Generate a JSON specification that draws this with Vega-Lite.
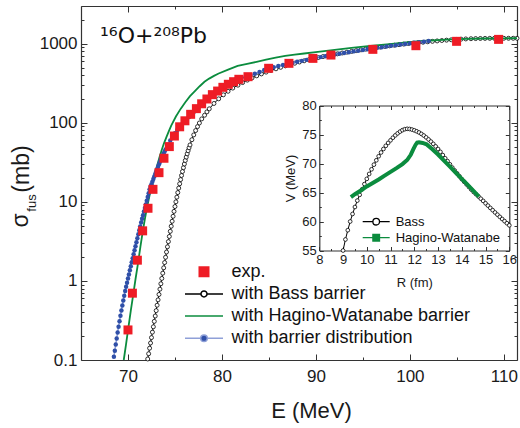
{
  "$schema": "https://vega.github.io/schema/vega-lite/v6.json",
  "width": 436,
  "height": 354,
  "autosize": "none",
  "padding": {"left": 81, "top": 6, "right": 3, "bottom": 68},
  "background": "white",
  "config": {
    "view": {"stroke": null},
    "font": "Liberation Sans",
    "axis": {"grid": false, "domainColor": "#333333", "domainWidth": 1.2, "tickColor": "#333333", "tickWidth": 1, "labelColor": "#1a1a1a", "titleColor": "#1a1a1a", "titleFontWeight": "normal", "labelFont": "Liberation Sans", "titleFont": "Liberation Sans"},
    "legend": {"labelFont": "Liberation Sans", "labelLimit": 0}
  },
  "title": {"text": "¹⁶O+²⁰⁸Pb", "anchor": "start", "frame": "group", "orient": "top", "offset": 0, "dx": 19, "dy": 68, "baseline": "alphabetic", "fontSize": 22, "fontWeight": "normal", "font": "DejaVu Sans", "color": "#111111"},
  "datasets": {
    "exp": [
      {"s": "exp.", "E": 70.0, "v": 0.24}, {"s": "exp.", "E": 70.47, "v": 0.70}, {"s": "exp.", "E": 71.0, "v": 1.83}, {"s": "exp.", "E": 71.56, "v": 4.3},
      {"s": "exp.", "E": 72.13, "v": 8.3}, {"s": "exp.", "E": 72.66, "v": 14.4}, {"s": "exp.", "E": 73.3, "v": 23.4}, {"s": "exp.", "E": 73.83, "v": 35.6},
      {"s": "exp.", "E": 74.4, "v": 50}, {"s": "exp.", "E": 74.94, "v": 68}, {"s": "exp.", "E": 75.5, "v": 89}, {"s": "exp.", "E": 76.06, "v": 106},
      {"s": "exp.", "E": 76.67, "v": 128}, {"s": "exp.", "E": 77.28, "v": 151}, {"s": "exp.", "E": 77.84, "v": 174}, {"s": "exp.", "E": 78.4, "v": 200},
      {"s": "exp.", "E": 78.98, "v": 227}, {"s": "exp.", "E": 79.54, "v": 252}, {"s": "exp.", "E": 80.1, "v": 281}, {"s": "exp.", "E": 80.68, "v": 307},
      {"s": "exp.", "E": 81.24, "v": 331}, {"s": "exp.", "E": 81.8, "v": 355}, {"s": "exp.", "E": 82.77, "v": 383}, {"s": "exp.", "E": 84.97, "v": 489},
      {"s": "exp.", "E": 87.13, "v": 565}, {"s": "exp.", "E": 89.68, "v": 653}, {"s": "exp.", "E": 91.6, "v": 719}, {"s": "exp.", "E": 96.06, "v": 849},
      {"s": "exp.", "E": 100.64, "v": 944}, {"s": "exp.", "E": 104.97, "v": 1072}, {"s": "exp.", "E": 109.44, "v": 1135}
    ],
    "bass": [
      {"E": 72.1, "v": 0.103}, {"E": 72.2, "v": 0.120}, {"E": 72.3, "v": 0.141}, {"E": 72.4, "v": 0.164}, {"E": 72.5, "v": 0.192},
      {"E": 72.6, "v": 0.225}, {"E": 72.7, "v": 0.263}, {"E": 72.8, "v": 0.308}, {"E": 72.9, "v": 0.360}, {"E": 73.0, "v": 0.421},
      {"E": 73.1, "v": 0.493}, {"E": 73.2, "v": 0.576}, {"E": 73.3, "v": 0.674}, {"E": 73.4, "v": 0.787}, {"E": 73.5, "v": 0.920},
      {"E": 73.6, "v": 1.075}, {"E": 73.7, "v": 1.254}, {"E": 73.8, "v": 1.464}, {"E": 73.9, "v": 1.708}, {"E": 74.0, "v": 1.991},
      {"E": 74.1, "v": 2.321}, {"E": 74.2, "v": 2.702}, {"E": 74.3, "v": 3.144}, {"E": 74.4, "v": 3.651}, {"E": 74.5, "v": 4.24},
      {"E": 74.6, "v": 4.916}, {"E": 74.7, "v": 5.687}, {"E": 74.8, "v": 6.572}, {"E": 74.9, "v": 7.58}, {"E": 75.0, "v": 8.725},
      {"E": 75.1, "v": 10.01}, {"E": 75.2, "v": 11.47}, {"E": 75.3, "v": 13.1}, {"E": 75.4, "v": 14.92}, {"E": 75.5, "v": 16.92},
      {"E": 75.6, "v": 19.13}, {"E": 75.7, "v": 21.56}, {"E": 75.8, "v": 24.2}, {"E": 75.9, "v": 27.04}, {"E": 76.0, "v": 30.1},
      {"E": 76.1, "v": 33.37}, {"E": 76.2, "v": 36.83}, {"E": 76.3, "v": 40.48}, {"E": 76.4, "v": 44.3}, {"E": 76.5, "v": 48.3},
      {"E": 76.6, "v": 52.46}, {"E": 76.8, "v": 61.1}, {"E": 77.0, "v": 70.3}, {"E": 77.2, "v": 79.8}, {"E": 77.4, "v": 89.5},
      {"E": 77.6, "v": 99.4}, {"E": 77.85, "v": 112}, {"E": 78.15, "v": 124.6}, {"E": 78.4, "v": 137.4}, {"E": 78.65, "v": 150.2},
      {"E": 79.15, "v": 175.6}, {"E": 79.65, "v": 200.9}, {"E": 80.15, "v": 225.8}, {"E": 80.65, "v": 250.4}, {"E": 81.15, "v": 274.8},
      {"E": 81.7, "v": 299}, {"E": 82.2, "v": 322.8}, {"E": 82.7, "v": 346.3}, {"E": 83.2, "v": 369.5}, {"E": 83.7, "v": 392.6},
      {"E": 84.2, "v": 415.1}, {"E": 84.7, "v": 437.5}, {"E": 85.2, "v": 459.7}, {"E": 85.75, "v": 481.8}, {"E": 86.25, "v": 503.3},
      {"E": 86.75, "v": 524.7}, {"E": 87.25, "v": 545.9}, {"E": 87.75, "v": 566.8}, {"E": 88.25, "v": 587.4}, {"E": 88.75, "v": 608},
      {"E": 89.25, "v": 628.2}, {"E": 89.75, "v": 648}, {"E": 90.25, "v": 667.9}, {"E": 90.75, "v": 687.6}, {"E": 91.25, "v": 707},
      {"E": 91.8, "v": 726}, {"E": 92.3, "v": 745}, {"E": 92.8, "v": 763.6}, {"E": 93.3, "v": 782}, {"E": 93.8, "v": 800.5},
      {"E": 94.3, "v": 818.6}, {"E": 94.8, "v": 836.5}, {"E": 95.3, "v": 854.4}, {"E": 95.8, "v": 872}, {"E": 96.3, "v": 889},
      {"E": 96.85, "v": 906.4}, {"E": 97.35, "v": 923.5}, {"E": 97.85, "v": 940.4}, {"E": 98.35, "v": 957.4}, {"E": 98.85, "v": 973.6},
      {"E": 99.35, "v": 990.2}, {"E": 99.85, "v": 1006}, {"E": 100.35, "v": 1018}, {"E": 100.85, "v": 1030}, {"E": 101.4, "v": 1044},
      {"E": 101.9, "v": 1058}, {"E": 102.4, "v": 1072}, {"E": 102.9, "v": 1085}, {"E": 103.4, "v": 1098}, {"E": 103.9, "v": 1110},
      {"E": 104.4, "v": 1121}, {"E": 104.95, "v": 1132}, {"E": 105.45, "v": 1142}, {"E": 105.95, "v": 1150}, {"E": 106.5, "v": 1157},
      {"E": 107.0, "v": 1162}, {"E": 107.5, "v": 1165}, {"E": 108.0, "v": 1168}, {"E": 108.5, "v": 1170}, {"E": 109.0, "v": 1171},
      {"E": 109.5, "v": 1171}, {"E": 110.0, "v": 1172}, {"E": 110.5, "v": 1172}, {"E": 111.0, "v": 1172}, {"E": 111.4, "v": 1172}
    ],
    "hw": [
      {"E": 69.55, "v": 0.1}, {"E": 69.8, "v": 0.16}, {"E": 70.05, "v": 0.26}, {"E": 70.3, "v": 0.42}, {"E": 70.55, "v": 0.66},
      {"E": 70.8, "v": 1.05}, {"E": 71.07, "v": 1.68}, {"E": 71.32, "v": 2.7}, {"E": 71.57, "v": 4.2}, {"E": 71.82, "v": 6.3},
      {"E": 72.07, "v": 9.0}, {"E": 72.32, "v": 12.5}, {"E": 72.58, "v": 16.3}, {"E": 72.83, "v": 21.5}, {"E": 73.08, "v": 28},
      {"E": 73.33, "v": 36}, {"E": 73.58, "v": 45}, {"E": 73.83, "v": 55}, {"E": 74.09, "v": 66}, {"E": 74.34, "v": 78},
      {"E": 74.6, "v": 92}, {"E": 75.1, "v": 120}, {"E": 75.6, "v": 150}, {"E": 76.1, "v": 182}, {"E": 76.6, "v": 217},
      {"E": 77.12, "v": 252}, {"E": 77.63, "v": 290}, {"E": 78.14, "v": 330}, {"E": 78.64, "v": 362}, {"E": 79.15, "v": 392},
      {"E": 79.65, "v": 420}, {"E": 80.66, "v": 470}, {"E": 81.67, "v": 525}, {"E": 82.68, "v": 557}, {"E": 83.69, "v": 590},
      {"E": 84.7, "v": 628}, {"E": 85.72, "v": 665}, {"E": 86.73, "v": 700}, {"E": 87.74, "v": 728}, {"E": 88.75, "v": 752},
      {"E": 89.75, "v": 775}, {"E": 91.77, "v": 830}, {"E": 93.78, "v": 885}, {"E": 95.8, "v": 940}, {"E": 97.83, "v": 990},
      {"E": 99.86, "v": 1045}, {"E": 101.88, "v": 1090}, {"E": 103.9, "v": 1125}, {"E": 105.92, "v": 1150}, {"E": 107.95, "v": 1165},
      {"E": 109.97, "v": 1172}, {"E": 111.4, "v": 1174}
    ],
    "bd": [
      {"E": 68.5, "v": 0.110}, {"E": 68.6, "v": 0.131}, {"E": 68.7, "v": 0.157}, {"E": 68.8, "v": 0.187}, {"E": 68.9, "v": 0.223},
      {"E": 69.0, "v": 0.264}, {"E": 69.1, "v": 0.310}, {"E": 69.2, "v": 0.363}, {"E": 69.3, "v": 0.423}, {"E": 69.4, "v": 0.490},
      {"E": 69.5, "v": 0.565}, {"E": 69.6, "v": 0.650}, {"E": 69.7, "v": 0.745}, {"E": 69.8, "v": 0.843}, {"E": 69.9, "v": 0.951},
      {"E": 70.0, "v": 1.072}, {"E": 70.1, "v": 1.208}, {"E": 70.2, "v": 1.361}, {"E": 70.3, "v": 1.531}, {"E": 70.4, "v": 1.722},
      {"E": 70.5, "v": 1.936}, {"E": 70.6, "v": 2.178}, {"E": 70.7, "v": 2.449}, {"E": 70.8, "v": 2.754}, {"E": 70.9, "v": 3.090},
      {"E": 71.0, "v": 3.467}, {"E": 71.1, "v": 3.890}, {"E": 71.2, "v": 4.365}, {"E": 71.3, "v": 4.898}, {"E": 71.4, "v": 5.495},
      {"E": 71.5, "v": 6.109}, {"E": 71.6, "v": 6.792}, {"E": 71.7, "v": 7.534}, {"E": 71.8, "v": 8.337}, {"E": 71.9, "v": 9.29},
      {"E": 72.0, "v": 10.35}, {"E": 72.1, "v": 11.56}, {"E": 72.2, "v": 12.88}, {"E": 72.3, "v": 14.39}, {"E": 72.4, "v": 15.52},
      {"E": 72.5, "v": 16.75}, {"E": 72.6, "v": 18.03}, {"E": 72.7, "v": 19.45}, {"E": 72.8, "v": 20.94}, {"E": 72.9, "v": 22.54},
      {"E": 73.0, "v": 24.21}, {"E": 73.1, "v": 25.94}, {"E": 73.2, "v": 27.86}, {"E": 73.3, "v": 29.85}, {"E": 73.4, "v": 31.99},
      {"E": 73.5, "v": 34.28}, {"E": 73.6, "v": 36.56}, {"E": 73.7, "v": 38.73}, {"E": 73.8, "v": 41.02}, {"E": 73.9, "v": 43.45},
      {"E": 74.0, "v": 46.03}, {"E": 74.25, "v": 52.72}, {"E": 74.5, "v": 59.57}, {"E": 74.75, "v": 66.53}, {"E": 75.0, "v": 73.62},
      {"E": 75.25, "v": 80.91}, {"E": 75.5, "v": 88.1}, {"E": 75.75, "v": 95.5}, {"E": 76.0, "v": 103.0}, {"E": 76.25, "v": 110.7},
      {"E": 76.5, "v": 118.3}, {"E": 76.75, "v": 127.1}, {"E": 77.0, "v": 136.5}, {"E": 77.25, "v": 146.2}, {"E": 77.5, "v": 156.7},
      {"E": 77.75, "v": 167.9}, {"E": 78.0, "v": 179.9}, {"E": 78.5, "v": 204}, {"E": 79.0, "v": 229}, {"E": 79.5, "v": 254},
      {"E": 80.0, "v": 280}, {"E": 80.5, "v": 305}, {"E": 81.0, "v": 330}, {"E": 81.5, "v": 355}, {"E": 82.0, "v": 362},
      {"E": 82.5, "v": 378}, {"E": 83.0, "v": 395}, {"E": 83.5, "v": 418}, {"E": 84.0, "v": 440}, {"E": 84.5, "v": 464},
      {"E": 85.0, "v": 488}, {"E": 85.5, "v": 505}, {"E": 86.0, "v": 522}, {"E": 86.5, "v": 538}, {"E": 87.0, "v": 555},
      {"E": 87.5, "v": 572}, {"E": 88.0, "v": 590}, {"E": 88.5, "v": 607}, {"E": 89.0, "v": 625}, {"E": 89.5, "v": 642},
      {"E": 90.0, "v": 660}, {"E": 90.5, "v": 677}, {"E": 91.0, "v": 695}, {"E": 91.5, "v": 712}, {"E": 92.0, "v": 730},
      {"E": 92.5, "v": 747}, {"E": 93.0, "v": 765}, {"E": 93.5, "v": 782}, {"E": 94.0, "v": 800}, {"E": 94.5, "v": 817},
      {"E": 95.0, "v": 835}, {"E": 95.5, "v": 851}, {"E": 96.0, "v": 868}, {"E": 96.5, "v": 886}, {"E": 97.0, "v": 905},
      {"E": 97.5, "v": 922}, {"E": 98.0, "v": 940}, {"E": 98.5, "v": 957}, {"E": 99.0, "v": 975}, {"E": 99.5, "v": 992},
      {"E": 100.0, "v": 1010}, {"E": 100.5, "v": 1027}, {"E": 101.0, "v": 1045}, {"E": 101.5, "v": 1062}, {"E": 102.0, "v": 1080}
    ],
    "vbass": [
      {"R": 9.0, "V": 55.0}, {"R": 9.1, "V": 56.9}, {"R": 9.2, "V": 58.5}, {"R": 9.3, "V": 60.0}, {"R": 9.4, "V": 61.3},
      {"R": 9.5, "V": 62.5}, {"R": 9.6, "V": 63.6}, {"R": 9.7, "V": 64.6}, {"R": 9.8, "V": 65.55}, {"R": 9.9, "V": 66.45},
      {"R": 10.0, "V": 67.35}, {"R": 10.1, "V": 68.2}, {"R": 10.2, "V": 69.0}, {"R": 10.3, "V": 69.8}, {"R": 10.4, "V": 70.55},
      {"R": 10.5, "V": 71.25}, {"R": 10.6, "V": 71.9}, {"R": 10.7, "V": 72.5}, {"R": 10.8, "V": 73.05}, {"R": 10.9, "V": 73.55},
      {"R": 11.0, "V": 74.0}, {"R": 11.1, "V": 74.45}, {"R": 11.2, "V": 74.85}, {"R": 11.3, "V": 75.2}, {"R": 11.4, "V": 75.5},
      {"R": 11.5, "V": 75.75}, {"R": 11.6, "V": 75.92}, {"R": 11.7, "V": 75.98}, {"R": 11.8, "V": 75.95}, {"R": 11.9, "V": 75.85},
      {"R": 12.0, "V": 75.72}, {"R": 12.1, "V": 75.55}, {"R": 12.2, "V": 75.35}, {"R": 12.3, "V": 75.1}, {"R": 12.4, "V": 74.82},
      {"R": 12.5, "V": 74.5}, {"R": 12.6, "V": 74.15}, {"R": 12.7, "V": 73.78}, {"R": 12.8, "V": 73.38}, {"R": 12.9, "V": 72.95},
      {"R": 13.0, "V": 72.5}, {"R": 13.1, "V": 72.0}, {"R": 13.2, "V": 71.45}, {"R": 13.3, "V": 70.9}, {"R": 13.4, "V": 70.4},
      {"R": 13.5, "V": 69.85}, {"R": 13.6, "V": 69.3}, {"R": 13.7, "V": 68.8}, {"R": 13.8, "V": 68.3}, {"R": 13.9, "V": 67.8},
      {"R": 14.0, "V": 67.3}, {"R": 14.1, "V": 66.85}, {"R": 14.2, "V": 66.4}, {"R": 14.3, "V": 65.95}, {"R": 14.4, "V": 65.5},
      {"R": 14.5, "V": 65.08}, {"R": 14.6, "V": 64.7}, {"R": 14.7, "V": 64.32}, {"R": 14.8, "V": 63.93}, {"R": 14.9, "V": 63.55},
      {"R": 15.0, "V": 63.14}, {"R": 15.1, "V": 62.74}, {"R": 15.2, "V": 62.34}, {"R": 15.3, "V": 61.95}, {"R": 15.4, "V": 61.56},
      {"R": 15.5, "V": 61.18}, {"R": 15.6, "V": 60.8}, {"R": 15.7, "V": 60.43}, {"R": 15.8, "V": 60.06}, {"R": 15.9, "V": 59.7},
      {"R": 16.0, "V": 59.34}
    ],
    "vhw": [
      {"R": 9.33, "V": 64.2}, {"R": 9.5, "V": 64.7}, {"R": 9.75, "V": 65.35}, {"R": 10.0, "V": 66.05}, {"R": 10.25, "V": 66.65},
      {"R": 10.5, "V": 67.25}, {"R": 10.75, "V": 67.9}, {"R": 11.0, "V": 68.55}, {"R": 11.25, "V": 69.2}, {"R": 11.5, "V": 69.9},
      {"R": 11.7, "V": 70.6}, {"R": 11.85, "V": 71.5}, {"R": 11.95, "V": 72.4}, {"R": 12.05, "V": 73.2}, {"R": 12.12, "V": 73.6},
      {"R": 12.2, "V": 73.65}, {"R": 12.35, "V": 73.55}, {"R": 12.52, "V": 73.3}, {"R": 12.75, "V": 72.5}, {"R": 13.0, "V": 71.55},
      {"R": 13.25, "V": 70.5}, {"R": 13.5, "V": 69.45}, {"R": 13.75, "V": 68.4}, {"R": 14.0, "V": 67.35}, {"R": 14.25, "V": 66.3},
      {"R": 14.5, "V": 65.25}, {"R": 14.72, "V": 64.3}
    ]
  },
  "layer": [
    {
      "layer": [
        {
          "data": {"name": "bass"},
          "mark": {"type": "line", "color": "#000000", "strokeWidth": 1},
          "encoding": {
            "x": {"field": "E", "type": "quantitative", "scale": {"domain": [65, 111.4], "nice": false, "zero": false},
              "axis": {"orient": "bottom", "values": [70, 75, 80, 85, 90, 95, 100, 105, 110], "format": "~g",
                "labelExpr": "datum.value % 10 == 0 ? datum.label : ''",
                "tickSize": {"condition": {"test": "datum.value % 10 == 0", "value": -6}, "value": -3},
                "labelPadding": 14, "labelFontSize": 17, "labelFlush": false, "labelOverlap": false,
                "title": "E (MeV)", "titleFontSize": 22, "titleX": 230, "titleY": 57, "titleBaseline": "alphabetic", "titleAlign": "center", "titleAngle": 0}},
            "y": {"field": "v", "type": "quantitative", "scale": {"type": "log", "domain": [0.1, 3000], "nice": false},
              "axis": {"orient": "left", "values": [0.1, 0.2, 0.3, 0.4, 0.5, 0.6, 0.7, 0.8, 0.9, 1, 2, 3, 4, 5, 6, 7, 8, 9, 10, 20, 30, 40, 50, 60, 70, 80, 90, 100, 200, 300, 400, 500, 600, 700, 800, 900, 1000, 2000, 3000],
                "format": "~g",
                "labelExpr": "datum.value == 0.1 || datum.value == 1 || datum.value == 10 || datum.value == 100 || datum.value == 1000 ? datum.label : ''",
                "tickSize": {"condition": {"test": "datum.value == 0.1 || datum.value == 1 || datum.value == 10 || datum.value == 100 || datum.value == 1000", "value": -6}, "value": -3},
                "labelPadding": 10, "labelFontSize": 17, "labelFlush": false, "labelOverlap": false,
                "title": "(mb)", "titleFontSize": 23, "titleX": -53, "titleY": 162.5, "titleAngle": -90, "titleAlign": "center", "titleBaseline": "alphabetic"}}
          }
        },
        {
          "data": {"name": "bass"},
          "mark": {"type": "point", "shape": "circle", "size": 16, "filled": true, "fill": "#ffffff", "stroke": "#000000", "strokeWidth": 0.8, "opacity": 1},
          "encoding": {
            "x": {"field": "E", "type": "quantitative", "scale": {"domain": [65, 111.4], "nice": false, "zero": false},
              "axis": {"orient": "top", "values": [70, 75, 80, 85, 90, 95, 100, 105, 110], "labels": false,
                "tickSize": {"condition": {"test": "datum.value % 10 == 0", "value": -6}, "value": -3}, "title": null}},
            "y": {"field": "v", "type": "quantitative", "scale": {"type": "log", "domain": [0.1, 3000], "nice": false},
              "axis": {"orient": "right", "values": [0.1, 0.2, 0.3, 0.4, 0.5, 0.6, 0.7, 0.8, 0.9, 1, 2, 3, 4, 5, 6, 7, 8, 9, 10, 20, 30, 40, 50, 60, 70, 80, 90, 100, 200, 300, 400, 500, 600, 700, 800, 900, 1000, 2000, 3000],
                "labels": false,
                "tickSize": {"condition": {"test": "datum.value == 0.1 || datum.value == 1 || datum.value == 10 || datum.value == 100 || datum.value == 1000", "value": -6}, "value": -3},
                "title": "σ", "titleFontSize": 23, "titleX": -489.5, "titleY": 214, "titleAngle": -90, "titleAlign": "center", "titleBaseline": "alphabetic"}}
          }
        },
        {
          "data": {"name": "hw"},
          "mark": {"type": "line", "color": "#0b8c3e", "strokeWidth": 1.8},
          "encoding": {
            "x": {"field": "E", "type": "quantitative", "scale": {"domain": [65, 111.4], "nice": false, "zero": false}, "axis": null},
            "y": {"field": "v", "type": "quantitative", "scale": {"type": "log", "domain": [0.1, 3000], "nice": false},
              "axis": {"orient": "left", "ticks": false, "labels": false, "domain": false, "title": "fus", "titleFontSize": 13, "titleX": -46, "titleY": 196.5, "titleAngle": -90, "titleAlign": "center", "titleBaseline": "alphabetic"}}
          }
        },
        {
          "data": {"name": "bd"},
          "mark": {"type": "line", "color": "#8fa0d8", "strokeWidth": 1.5},
          "encoding": {
            "x": {"field": "E", "type": "quantitative", "scale": {"domain": [65, 111.4], "nice": false, "zero": false}, "axis": null},
            "y": {"field": "v", "type": "quantitative", "scale": {"type": "log", "domain": [0.1, 3000], "nice": false}, "axis": null}
          }
        },
        {
          "data": {"name": "bd"},
          "mark": {"type": "circle", "size": 20, "color": "#2f4fa8", "opacity": 1},
          "encoding": {
            "x": {"field": "E", "type": "quantitative", "scale": {"domain": [65, 111.4], "nice": false, "zero": false}, "axis": null},
            "y": {"field": "v", "type": "quantitative", "scale": {"type": "log", "domain": [0.1, 3000], "nice": false}, "axis": null}
          }
        },
        {
          "data": {"name": "exp"},
          "mark": {"type": "point", "filled": true, "size": 961, "strokeWidth": 1.5, "opacity": 1},
          "encoding": {
            "x": {"field": "E", "type": "quantitative", "scale": {"domain": [65, 111.4], "nice": false, "zero": false}, "axis": null},
            "y": {"field": "v", "type": "quantitative", "scale": {"type": "log", "domain": [0.1, 3000], "nice": false}, "axis": null},
            "shape": {"field": "s", "type": "nominal",
              "scale": {"domain": ["exp.", "with Bass barrier", "with Hagino-Watanabe barrier", "with barrier distribution"],
                "range": ["M-0.29,-0.29H0.29V0.29H-0.29Z", "M-1,0H-0.158M0.158,0H1M0.158,0A0.158,0.158,0,1,1,-0.158,0A0.158,0.158,0,1,1,0.158,0Z", "M-1,0H1", "M-1,0H-0.174M0.174,0H1M0.174,0A0.174,0.174,0,1,1,-0.174,0A0.174,0.174,0,1,1,0.174,0Z"]},
              "legend": {"orient": "none", "legendX": 103, "legendY": 255.7, "title": null, "symbolSize": 1444, "symbolStrokeWidth": 1.5, "clipHeight": 20, "rowPadding": 2.2, "labelFontSize": 18, "labelOffset": 7.5, "labelLimit": 0, "labelColor": "#111111", "padding": 0, "symbolOpacity": 1}},
            "fill": {"field": "s", "type": "nominal",
              "scale": {"domain": ["exp.", "with Bass barrier", "with Hagino-Watanabe barrier", "with barrier distribution"], "range": ["#ee1c25", "#ffffff", "transparent", "#2f4fa8"]},
              "legend": {"orient": "none", "legendX": 103, "legendY": 255.7, "title": null, "symbolSize": 1444, "symbolStrokeWidth": 1.5, "clipHeight": 20, "rowPadding": 2.2, "labelFontSize": 18, "labelOffset": 7.5, "labelLimit": 0, "labelColor": "#111111", "padding": 0, "symbolOpacity": 1}},
            "stroke": {"field": "s", "type": "nominal",
              "scale": {"domain": ["exp.", "with Bass barrier", "with Hagino-Watanabe barrier", "with barrier distribution"], "range": ["transparent", "#000000", "#0b8c3e", "#8fa0d8"]},
              "legend": {"orient": "none", "legendX": 103, "legendY": 255.7, "title": null, "symbolSize": 1444, "symbolStrokeWidth": 1.5, "clipHeight": 20, "rowPadding": 2.2, "labelFontSize": 18, "labelOffset": 7.5, "labelLimit": 0, "labelColor": "#111111", "padding": 0, "symbolOpacity": 1}}
          }
        }
      ],
      "resolve": {"axis": {"x": "independent", "y": "independent"}}
    },
    {
      "layer": [
        {
          "data": {"name": "vbass"},
          "mark": {"type": "line", "color": "#000000", "strokeWidth": 1},
          "encoding": {
            "x": {"field": "R", "type": "quantitative", "scale": {"domain": [8, 16], "range": [238.3, 428.3], "nice": false, "zero": false},
              "axis": {"orient": "bottom", "offset": -109.5, "values": [8, 8.5, 9, 9.5, 10, 10.5, 11, 11.5, 12, 12.5, 13, 13.5, 14, 14.5, 15, 15.5, 16], "format": "~g",
                "labelExpr": "datum.value % 1 == 0 ? datum.label : ''",
                "tickSize": {"condition": {"test": "datum.value % 1 == 0", "value": -4}, "value": -2},
                "labelPadding": 7, "labelFontSize": 13, "labelFlush": false, "labelOverlap": false,
                "title": "R (fm)", "titleFontSize": 13, "titlePadding": 8}},
            "y": {"field": "V", "type": "quantitative", "scale": {"domain": [55, 80], "range": [244.5, 99.5], "nice": false, "zero": false},
              "axis": {"orient": "left", "offset": -238.3, "values": [55, 57.5, 60, 62.5, 65, 67.5, 70, 72.5, 75, 77.5, 80], "format": "~g",
                "labelExpr": "datum.value % 5 == 0 ? datum.label : ''",
                "tickSize": {"condition": {"test": "datum.value % 5 == 0", "value": -4}, "value": -2},
                "labelPadding": 7, "labelFontSize": 13, "labelFlush": false, "labelOverlap": false,
                "title": "V (MeV)", "titleFontSize": 13, "titlePadding": 4}}
          }
        },
        {
          "data": {"name": "vbass"},
          "mark": {"type": "point", "shape": "circle", "size": 14, "filled": true, "fill": "#ffffff", "stroke": "#000000", "strokeWidth": 0.8, "opacity": 1},
          "encoding": {
            "x": {"field": "R", "type": "quantitative", "scale": {"domain": [8, 16], "range": [238.3, 428.3], "nice": false, "zero": false},
              "axis": {"orient": "top", "offset": -99.5, "values": [8, 8.5, 9, 9.5, 10, 10.5, 11, 11.5, 12, 12.5, 13, 13.5, 14, 14.5, 15, 15.5, 16], "labels": false,
                "tickSize": {"condition": {"test": "datum.value % 1 == 0", "value": -4}, "value": -2}, "title": null}},
            "y": {"field": "V", "type": "quantitative", "scale": {"domain": [55, 80], "range": [244.5, 99.5], "nice": false, "zero": false},
              "axis": {"orient": "right", "offset": -7.7, "values": [55, 57.5, 60, 62.5, 65, 67.5, 70, 72.5, 75, 77.5, 80], "labels": false,
                "tickSize": {"condition": {"test": "datum.value % 5 == 0", "value": -4}, "value": -2}, "title": null}}
          }
        },
        {
          "data": {"name": "vhw"},
          "mark": {"type": "line", "color": "#0b8c3e", "strokeWidth": 4},
          "encoding": {
            "x": {"field": "R", "type": "quantitative", "scale": {"domain": [8, 16], "range": [238.3, 428.3], "nice": false, "zero": false}, "axis": null},
            "y": {"field": "V", "type": "quantitative", "scale": {"domain": [55, 80], "range": [244.5, 99.5], "nice": false, "zero": false}, "axis": null}
          }
        },
        {
          "data": {"values": []},
          "mark": {"type": "point", "filled": true, "strokeWidth": 1.3, "opacity": 1},
          "encoding": {
            "shape": {"field": "p", "type": "nominal",
              "scale": {"domain": ["Bass", "Hagino-Watanabe"], "range": ["M-1,0H-0.245M0.245,0H1M0.245,0A0.245,0.245,0,1,1,-0.245,0A0.245,0.245,0,1,1,0.245,0Z", "M-1,0H1M-0.245,-0.245H0.245V0.245H-0.245Z"]},
              "legend": {"orient": "none", "legendX": 280.7, "legendY": 209.2, "title": null, "symbolSize": 729, "symbolStrokeWidth": 1.3, "clipHeight": 13, "rowPadding": 2, "labelFontSize": 13, "labelOffset": 5, "labelLimit": 0, "labelColor": "#111111", "padding": 0, "symbolOpacity": 1}},
            "fill": {"field": "p", "type": "nominal",
              "scale": {"domain": ["Bass", "Hagino-Watanabe"], "range": ["#ffffff", "#0b8c3e"]},
              "legend": {"orient": "none", "legendX": 280.7, "legendY": 209.2, "title": null, "symbolSize": 729, "symbolStrokeWidth": 1.3, "clipHeight": 13, "rowPadding": 2, "labelFontSize": 13, "labelOffset": 5, "labelLimit": 0, "labelColor": "#111111", "padding": 0, "symbolOpacity": 1}},
            "stroke": {"field": "p", "type": "nominal",
              "scale": {"domain": ["Bass", "Hagino-Watanabe"], "range": ["#000000", "#0b8c3e"]},
              "legend": {"orient": "none", "legendX": 280.7, "legendY": 209.2, "title": null, "symbolSize": 729, "symbolStrokeWidth": 1.3, "clipHeight": 13, "rowPadding": 2, "labelFontSize": 13, "labelOffset": 5, "labelLimit": 0, "labelColor": "#111111", "padding": 0, "symbolOpacity": 1}}
          }
        }
      ],
      "resolve": {"axis": {"x": "independent", "y": "independent"}}
    }
  ],
  "resolve": {"scale": {"x": "independent", "y": "independent", "fill": "independent", "stroke": "independent", "shape": "independent"}}
}
